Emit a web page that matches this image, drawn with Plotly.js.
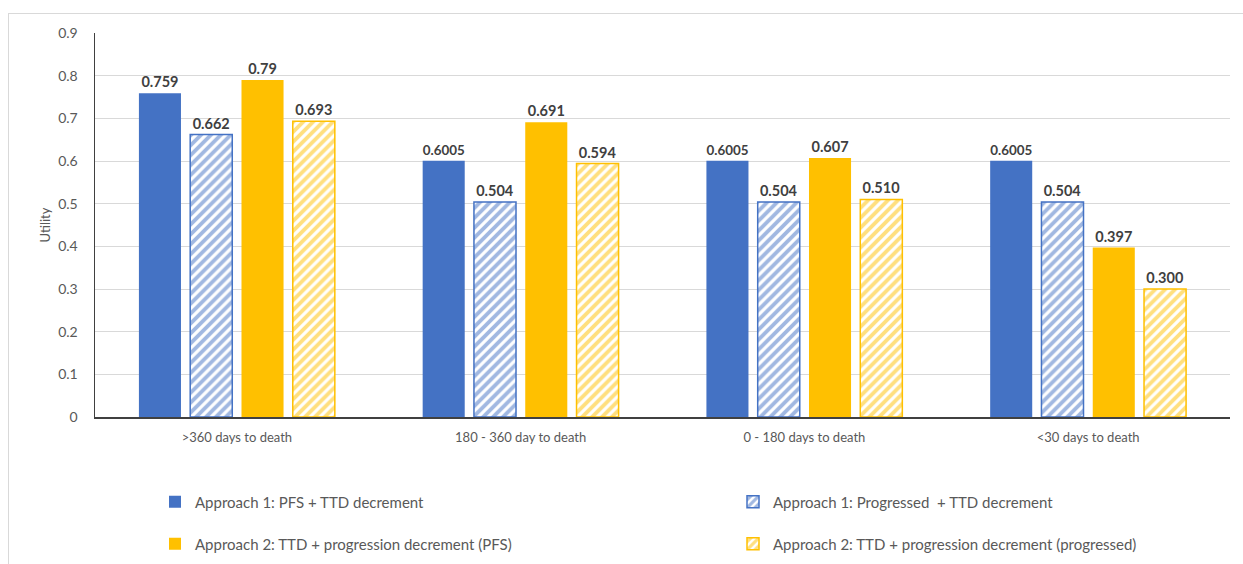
<!DOCTYPE html>
<html>
<head>
<meta charset="utf-8">
<script src="https://cdn.plot.ly/plotly-3.0.1.min.js"></script>
<style>
html,body{margin:0;padding:0;background:#fff;}
#wrap{position:relative;width:1243px;height:564px;overflow:hidden;}
#frame{position:absolute;left:8px;top:13px;width:1250px;height:600px;border:1px solid #d9d9d9;box-sizing:border-box;}
#chart{position:absolute;left:0;top:0;width:1243px;height:564px;}
</style>
</head>
<body>
<div id="wrap"><div id="frame"></div><div id="chart"></div></div>
<script>
const categories = [">360 days to death", "180 - 360 day to death", "0 - 180 days to death", "<30 days to death"];
const seriesNames = [
  "Approach 1: PFS + TTD decrement",
  "Approach 1: Progressed  + TTD decrement",
  "Approach 2: TTD + progression decrement (PFS)",
  "Approach 2: TTD + progression decrement (progressed)"
];
const a1PFS = [0.759, 0.6005, 0.6005, 0.6005];
const a1Prog = [0.662, 0.504, 0.504, 0.504];
const a2PFS = [0.79, 0.691, 0.607, 0.397];
const a2Prog = [0.693, 0.594, 0.510, 0.300];
const a1PFSLabels = ["0.759", "0.6005", "0.6005", "0.6005"];
const a1ProgLabels = ["0.662", "0.504", "0.504", "0.504"];
const a2PFSLabels = ["0.79", "0.691", "0.607", "0.397"];
const a2ProgLabels = ["0.693", "0.594", "0.510", "0.300"];
const yTicks = [0, 0.1, 0.2, 0.3, 0.4, 0.5, 0.6, 0.7, 0.8, 0.9];
const yTickText = ["0", "0.1", "0.2", "0.3", "0.4", "0.5", "0.6", "0.7", "0.8", "0.9"];

const BLUE = "#4472C4", GOLD = "#FFC000";
const FONT = "Lato, 'Open Sans', sans-serif";
const labelFont = {family: FONT, size: 14.5, color: "#404040", weight: "bold"};

function bar(name, y, labels, color, hatched, legend) {
  const t = {
    type: "bar", name: name, x: categories, y: y,
    text: labels, textposition: "outside", texttemplate: "<b>%{text}</b>",
    textfont: labelFont, cliponaxis: false,
    legend: legend,
    marker: {color: color, line: {color: color, width: hatched ? 1.5 : 0}}
  };
  if (hatched) {
    t.marker.color = "#ffffff";
    t.marker.pattern = {shape: "/", fgcolor: color, bgcolor: "#ffffff", size: 7, solidity: 0.55, fillmode: "overlay"};
  }
  return t;
}

const data = [
  bar(seriesNames[0], a1PFS, a1PFSLabels, BLUE, false, "legend"),
  bar(seriesNames[1], a1Prog, a1ProgLabels, BLUE, true, "legend2"),
  bar(seriesNames[2], a2PFS, a2PFSLabels, GOLD, false, "legend3"),
  bar(seriesNames[3], a2Prog, a2ProgLabels, GOLD, true, "legend4")
];

function leg(xpx, ypx) {
  return {
    orientation: "h", xref: "container", yref: "container", xanchor: "left", yanchor: "middle",
    x: xpx / 1243, y: 1 - ypx / 564,
    font: {family: FONT, size: 15, color: "#595959"},
    bgcolor: "rgba(0,0,0,0)", borderwidth: 0
  };
}

const layout = {
  width: 1243, height: 564,
  margin: {l: 95, r: 13, t: 33, b: 147, autoexpand: false},
  paper_bgcolor: "rgba(0,0,0,0)", plot_bgcolor: "rgba(0,0,0,0)",
  barmode: "group", bargap: 0.277, bargroupgap: 0.18,
  font: {family: FONT, color: "#595959"},
  xaxis: {
    type: "category", showgrid: false, zeroline: false,
    showline: true, linecolor: "#404040", linewidth: 1.5,
    ticks: "", tickfont: {size: 13, color: "#595959"}, ticklabelstandoff: 8
  },
  yaxis: {
    range: [0, 0.9], tickvals: yTicks, ticktext: yTickText,
    showgrid: true, gridcolor: "#d9d9d9", gridwidth: 1,
    zeroline: false, showline: true, linecolor: "#404040", linewidth: 1.5,
    ticks: "", tickfont: {size: 14, color: "#595959"}, ticklabelstandoff: 13,
    title: {text: "Utility", font: {size: 13, color: "#595959"}, standoff: 4}
  },
  legend: leg(155, 502),
  legend2: leg(733, 502),
  legend3: leg(155, 544),
  legend4: leg(733, 544),
  showlegend: true
};

Plotly.newPlot("chart", data, layout, {displayModeBar: false, staticPlot: true});
</script>
</body>
</html>
